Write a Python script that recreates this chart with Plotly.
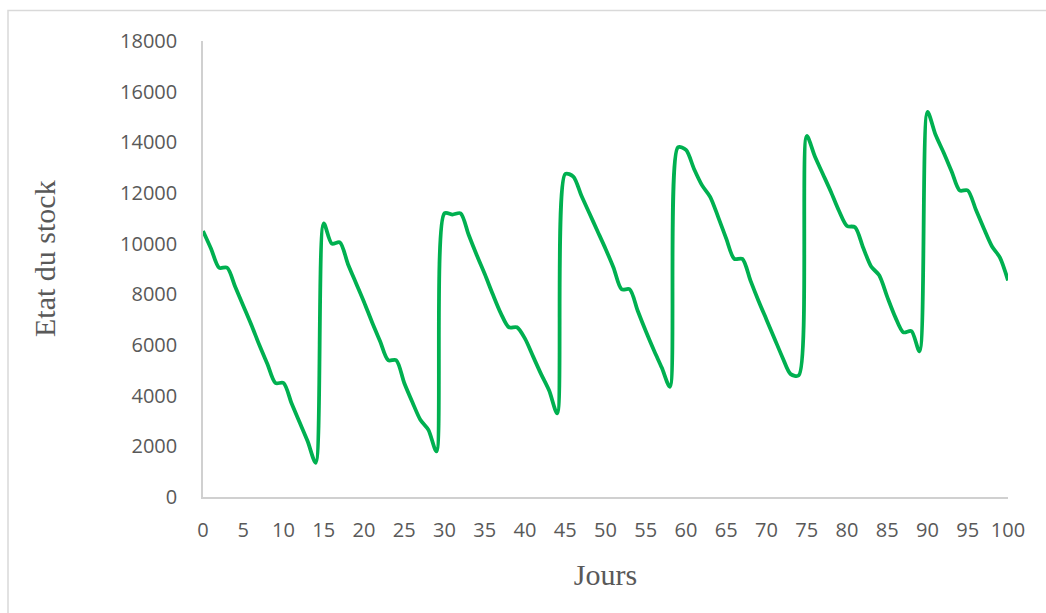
import plotly.graph_objects as go

jours = list(range(0, 101))
stock = [
    10500, 9800, 9050, 9050, 8300, 7550, 6800, 6000, 5250, 4500,
    4500, 3700, 2950, 2200, 1350, 10800, 10000, 10050, 9200, 8450,
    7700, 6900, 6150, 5400, 5400, 4500, 3750, 3050, 2650, 1800,
    11200, 11150, 11200, 10350, 9550, 8800, 8000, 7250, 6700, 6700,
    6250, 5550, 4850, 4200, 3300, 12750, 12650, 11900, 11200, 10500,
    9800, 9050, 8200, 8200, 7350, 6550, 5800, 5100, 4350, 13800,
    13700, 12950, 12300, 11850, 11050, 10200, 9400, 9400, 8550, 7750,
    7000, 6250, 5500, 4850, 4800, 14250, 13450, 12750, 12050, 11300,
    10700, 10650, 9850, 9100, 8750, 7900, 7100, 6500, 6550, 5750,
    15200, 14300, 13600, 12850, 12100, 12100, 11350, 10600, 9900, 9450,
    8550,
]
x_title = "Jours"
y_title = "Etat du stock"

fig = go.Figure()
fig.add_trace(go.Scatter(
    x=jours, y=stock, mode="lines",
    line=dict(color="#00b050", width=3.8, shape="spline", smoothing=0.8),
    showlegend=False, hoverinfo="x+y",
))

tick_font = dict(family="Open Sans, Lato, sans-serif", size=20, color="#595959")
title_font = dict(family="Liberation Serif, Times New Roman, serif", size=30, color="#595959")

fig.update_layout(
    width=1046, height=613,
    margin=dict(l=203, r=38, t=41, b=116),
    paper_bgcolor="white", plot_bgcolor="white",
    xaxis=dict(
        range=[0, 100], dtick=5, tick0=0,
        showgrid=False, zeroline=False,
        showline=True, linecolor="#d0d0d0", linewidth=1.5,
        ticks="", tickfont=tick_font, ticklabelstandoff=14,
        title=dict(text=x_title, font=title_font, standoff=22),
    ),
    yaxis=dict(
        range=[0, 18000], dtick=2000, tick0=0, tickformat="d",
        showgrid=False, zeroline=False,
        showline=True, linecolor="#d0d0d0", linewidth=1.5,
        ticks="", tickfont=tick_font, ticklabelstandoff=20,
    ),
    annotations=[dict(
        text=y_title, font=title_font, textangle=-90,
        xref="paper", yref="paper",
        x=(44 - 203) / 805, y=(497 - 259) / 456,
        xanchor="center", yanchor="middle", showarrow=False,
    )],
    shapes=[dict(
        type="rect", xref="paper", yref="paper",
        x0=(8 - 203) / 805, x1=(1060 - 203) / 805,
        y0=(497 - 630) / 456, y1=(497 - 10.5) / 456,
        line=dict(color="#d9d9d9", width=1.5), fillcolor="rgba(0,0,0,0)",
        layer="below",
    )],
)

fig.write_html("out.html")
